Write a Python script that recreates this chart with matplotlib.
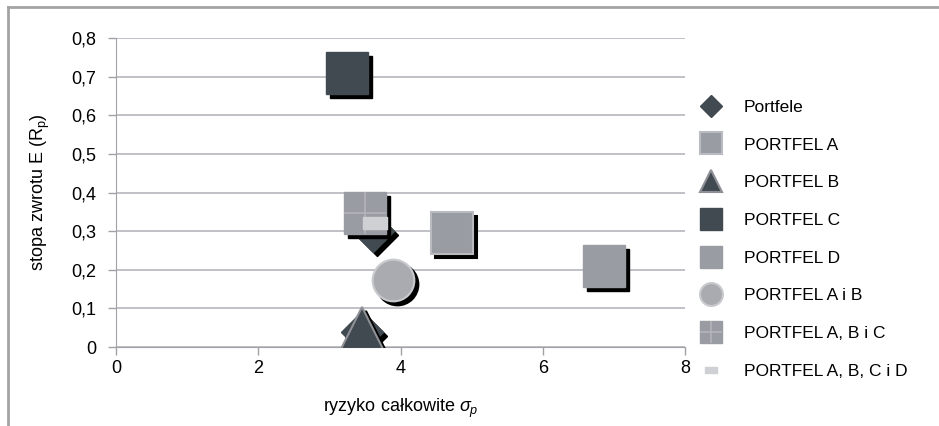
import matplotlib
matplotlib.use('Agg')
import matplotlib.pyplot as plt
import matplotlib.transforms as mtransforms
from matplotlib.lines import Line2D
from matplotlib.legend_handler import HandlerTuple

plt.rcParams['font.family'] = ['Liberation Sans', 'DejaVu Sans']
plt.rcParams['mathtext.fontset'] = 'custom'
plt.rcParams['mathtext.rm'] = 'Liberation Sans'
plt.rcParams['mathtext.it'] = 'Liberation Sans:italic'
plt.rcParams['mathtext.sf'] = 'Liberation Sans'

# dane: ryzyko (x) i stopa zwrotu (y)
portfele_x = [3.62, 3.46]
portfele_y = [0.30, 0.04]
a_x, a_y = [4.73], [0.295]
b_x, b_y = [3.46], [0.05]
c_x, c_y = [3.25], [0.71]
d_x, d_y = [6.86], [0.21]
ab_x, ab_y = [3.90], [0.173]
abc_x, abc_y = [3.50], [0.347]
abcd_x, abcd_y = [3.64], [0.32]

x_ticks = [0, 2, 4, 6, 8]
y_ticks = [0, 0.1, 0.2, 0.3, 0.4, 0.5, 0.6, 0.7, 0.8]

DARK = '#414a50'
GRAY = '#9a9ca3'
LIGHT = '#cfd0d4'

fig = plt.figure(figsize=(9.39, 4.26), dpi=100)
ax = fig.add_axes([116 / 939, 79 / 426, 569 / 939, 309 / 426])

shadow = mtransforms.offset_copy(ax.transData, fig=fig, x=4, y=-4, units='dots')

rect_marker = [(-1, -0.5), (1, -0.5), (1, 0.5), (-1, 0.5), (-1, -0.5)]

series = [
    # x, y, styl, etykieta
    (portfele_x, portfele_y, dict(marker='D', ms=21, mfc=DARK, mec=DARK), 'Portfele'),
    (a_x, a_y, dict(marker='s', ms=30, mfc=GRAY, mec='#b9bbc0', mew=1.5), 'PORTFEL A'),
    (b_x, b_y, dict(marker='^', ms=30, mfc=DARK, mec='#8e9096', mew=1.5), 'PORTFEL B'),
    (c_x, c_y, dict(marker='s', ms=30, mfc=DARK, mec=DARK), 'PORTFEL C'),
    (d_x, d_y, dict(marker='s', ms=30, mfc=GRAY, mec=GRAY), 'PORTFEL D'),
    (ab_x, ab_y, dict(marker='o', ms=30, mfc='#a9abb0', mec='#c8cacd', mew=1.5), 'PORTFEL A i B'),
    (abc_x, abc_y, dict(marker='s', ms=30, mfc=GRAY, mec=GRAY), 'PORTFEL A, B i C'),
]

handles = []
for xs, ys, st, lab in series:
    sh = dict(st)
    sh['mfc'] = 'black'
    sh['mec'] = 'black'
    ax.plot(xs, ys, ls='none', transform=shadow, zorder=3, **sh)
    h, = ax.plot(xs, ys, ls='none', zorder=3, label=lab, **st)
    handles.append(h)

# krzyżyk na kwadracie A, B i C
plus, = ax.plot(abc_x, abc_y, ls='none', marker='+', ms=30, mew=1.2, color='#b3b5ba', zorder=4)
handles[-1] = (handles[-1], plus)
h_abcd, = ax.plot(abcd_x, abcd_y, ls='none', marker=rect_marker, ms=17, mfc=LIGHT, mec=LIGHT,
                  zorder=5, label='PORTFEL A, B, C i D')
handles.append(h_abcd)

ax.set_xlim(0, 8)
ax.set_ylim(0, 0.8)
ax.set_xticks(x_ticks)
ax.set_yticks(y_ticks)
ax.set_yticklabels([('%g' % v).replace('.', ',') for v in y_ticks])
ax.tick_params(labelsize=13, colors='#a0a2a8', labelcolor='black', length=6, width=1)
ax.tick_params(axis='y', pad=8)
ax.grid(axis='y', color='#b5b6bd', lw=1.2)
ax.set_axisbelow(True)
for s in ['top', 'right']:
    ax.spines[s].set_visible(False)
for s in ['left', 'bottom']:
    ax.spines[s].set_color('#a0a2a8')

ax.set_xlabel(r'ryzyko całkowite $\sigma_p$', fontsize=13, labelpad=14)
ax.set_ylabel(r'stopa zwrotu E (R$_\mathrm{p}$)', fontsize=13, labelpad=14)

labels = [h[0].get_label() if isinstance(h, tuple) else h.get_label() for h in handles]
fig.legend(handles, labels, loc='upper left', bbox_to_anchor=(681 / 939, 1 - 84 / 426),
           frameon=False, fontsize=12.5, markerscale=0.55, labelspacing=1.3,
           handlelength=1.6, handletextpad=1.1,
           handler_map={tuple: HandlerTuple(ndivide=1)})

# ramka wykresu (tylko góra i lewa strona)
fig.add_artist(Line2D([8 / 939, 8 / 939], [0, 1 - 7 / 426], color='#a3a3a3', lw=2))
fig.add_artist(Line2D([8 / 939, 1], [1 - 7 / 426, 1 - 7 / 426], color='#a3a3a3', lw=2))

fig.savefig('out.png', dpi=100)
